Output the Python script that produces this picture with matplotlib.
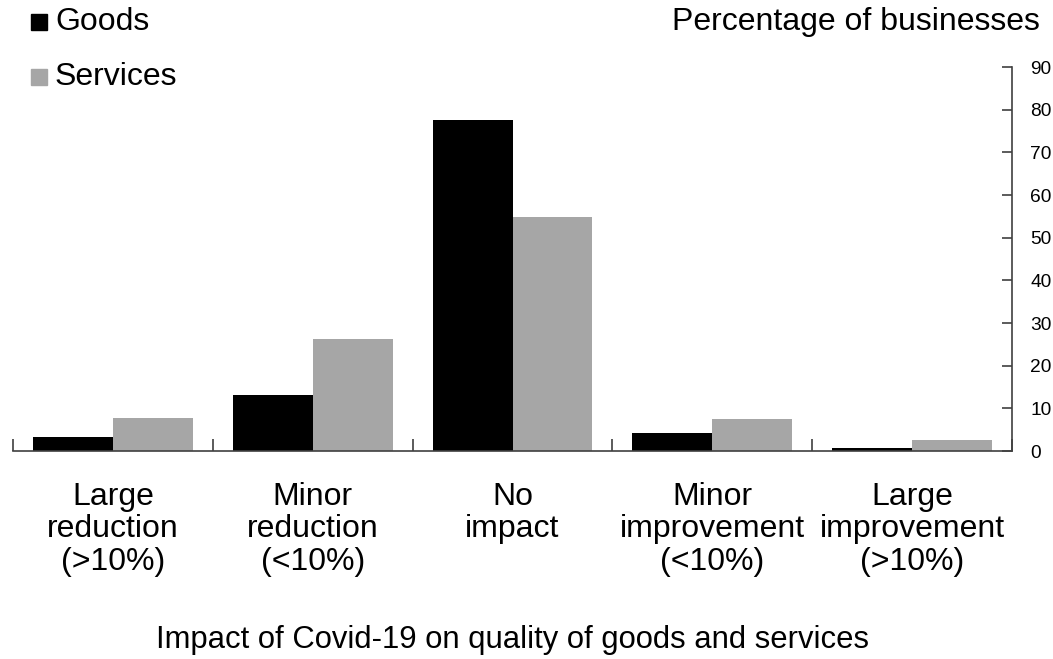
import matplotlib.pyplot as plt
import numpy as np
from matplotlib.patches import Rectangle

plt.rcParams["font.family"] = ["Liberation Sans", "DejaVu Sans"]

categories = [
    "Large\nreduction\n(>10%)",
    "Minor\nreduction\n(<10%)",
    "No\nimpact",
    "Minor\nimprovement\n(<10%)",
    "Large\nimprovement\n(>10%)",
]
goods = [3.3, 13.1, 77.6, 4.3, 0.8]
services = [7.8, 26.2, 54.8, 7.5, 2.5]
y_ticks = [0, 10, 20, 30, 40, 50, 60, 70, 80, 90]

GOODS_COLOR = "black"
SERVICES_COLOR = "#a6a6a6"
AXIS_COLOR = "#404040"
BIG = 23

fig = plt.figure(figsize=(10.53, 6.59), dpi=100)
ax = fig.add_axes([13 / 1053, 1 - 451 / 659, (1012 - 13) / 1053, (451 - 67) / 659])

x = np.arange(len(categories))
width = 0.4
ax.bar(x - width / 2, goods, width, color=GOODS_COLOR)
ax.bar(x + width / 2, services, width, color=SERVICES_COLOR)

ax.set_xlim(-0.5, len(categories) - 0.5)
ax.set_ylim(0, 90)

for side in ("top", "left"):
    ax.spines[side].set_visible(False)
for side in ("bottom", "right"):
    ax.spines[side].set_color(AXIS_COLOR)
    ax.spines[side].set_linewidth(1.2)

ax.yaxis.tick_right()
ax.set_yticks(y_ticks)
ax.tick_params(axis="y", direction="in", length=7, width=1.2, color=AXIS_COLOR,
               labelsize=13.8, pad=13)

# category boundaries as ticks, labels centred under each group
ax.set_xticks(np.arange(len(categories) + 1) - 0.5)
ax.set_xticklabels([])
ax.set_xticks(x, minor=True)
ax.set_xticklabels(categories, minor=True, fontsize=BIG, linespacing=1.12)
ax.tick_params(axis="x", which="major", direction="in", length=9, width=1.2,
               color=AXIS_COLOR)
ax.tick_params(axis="x", which="minor", length=0, pad=22)

fig.text(512 / 1053, 1 - 640 / 659, "Impact of Covid-19 on quality of goods and services",
         ha="center", va="center", fontsize=22.3)
fig.text(1040 / 1053, 1 - 22 / 659, "Percentage of businesses",
         ha="right", va="center", fontsize=BIG)

# legend drawn as square swatches with labels
for ypix, color, label in [(22, GOODS_COLOR, "Goods"), (77, SERVICES_COLOR, "Services")]:
    fig.patches.append(Rectangle((31 / 1053, 1 - (ypix + 8) / 659), 16 / 1053, 16 / 659,
                                 transform=fig.transFigure, color=color))
    fig.text(55 / 1053, 1 - ypix / 659, label, ha="left", va="center", fontsize=BIG)

fig.savefig("out.png", dpi=100)
